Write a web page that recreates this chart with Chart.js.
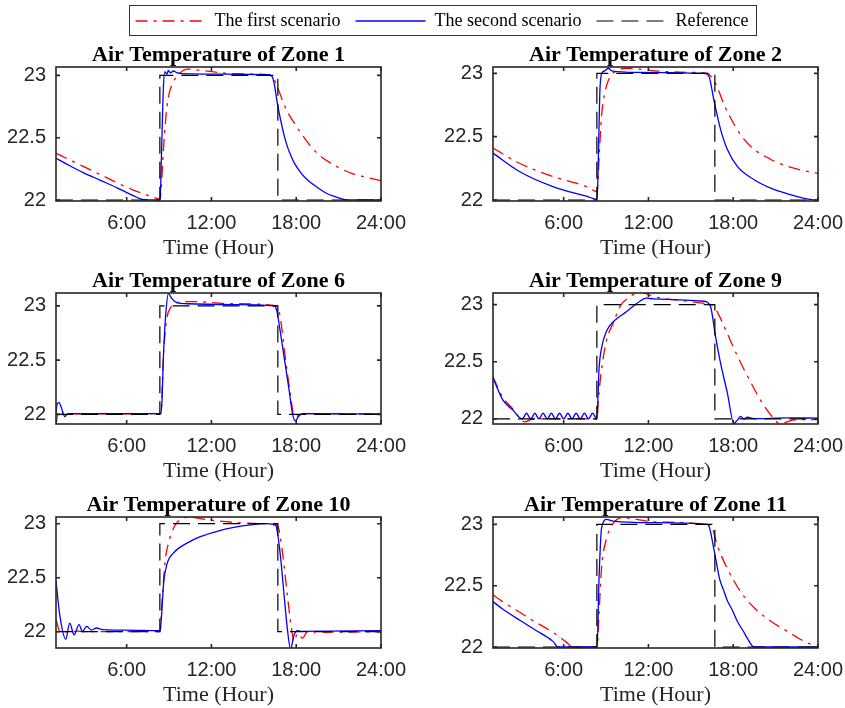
<!DOCTYPE html>
<html lang="en">
<head>
<meta charset="UTF-8">
<title>Air Temperature of Zones</title>
<script src="https://cdn.jsdelivr.net/npm/chart.js@4.4.1/dist/chart.umd.min.js"></script>
<style>
  body { margin: 0; background: #fff; }
  #page { position: relative; width: 845px; height: 708px; overflow: hidden; background: #fff; }
  canvas { position: absolute; }
  #legendBox { position: absolute; left: 129px; top: 5px; width: 626px; height: 29px; border: 1px solid #333; }
</style>
</head>
<body>
<div id="page">
  <div id="legendBox"></div>
  <canvas id="zone1" width="421" height="224" style="left:0px; top:37px"></canvas>
  <canvas id="zone2" width="421" height="224" style="left:437px; top:37px"></canvas>
  <canvas id="zone6" width="421" height="221" style="left:0px; top:263px"></canvas>
  <canvas id="zone9" width="421" height="221" style="left:437px; top:263px"></canvas>
  <canvas id="zone10" width="421" height="221" style="left:0px; top:487px"></canvas>
  <canvas id="zone11" width="421" height="221" style="left:437px; top:487px"></canvas>
  <canvas id="legend" width="700" height="120" style="left:92px; top:-3px"></canvas>
</div>

<script>
// axis ticks
const hourTicks = [6, 12, 18, 24];
const tempTicks = [22, 22.5, 23];

// reference set point (same for every zone)
const refHours = [1, 8.35, 8.35, 16.7, 16.7, 24];
const refTemp = [22, 22, 23, 23, 22, 22];

// zone 1
const zone1FirstHours = [1, 1.73, 2.92, 4.1, 5.29, 6.47, 7.66, 8.37, 8.45, 8.6, 8.77, 8.96, 9.32, 9.79, 10.27, 11.21, 13.58, 15.95, 16.31, 16.66, 17.02, 17.37, 17.85, 18.32, 19.03, 19.74, 20.69, 21.88, 23.06, 24];
const zone1First = [22.375, 22.335, 22.27, 22.206, 22.14, 22.08, 22.032, 22.008, 22.1, 22.4, 22.66, 22.83, 22.95, 23.02, 23.05, 23.04, 23.013, 23.005, 22.99, 22.91, 22.8, 22.71, 22.62, 22.54, 22.43, 22.35, 22.28, 22.215, 22.18, 22.155];
const zone1SecondHours = [1, 1.73, 2.92, 4.1, 5.29, 6.47, 7.18, 8.37, 8.45, 8.6, 8.7, 8.85, 8.95, 9.1, 9.3, 9.6, 10.5, 13, 16.0, 16.3, 16.43, 16.66, 16.9, 17.14, 17.4, 17.61, 17.85, 18.32, 18.8, 19.5, 20.2, 20.69, 21.64, 24];
const zone1Second = [22.335, 22.29, 22.22, 22.16, 22.1, 22.035, 22.003, 22.0, 22.3, 22.9, 23.03, 23.01, 23.04, 23.02, 23.035, 23.02, 23.012, 23.01, 23.005, 22.99, 22.94, 22.78, 22.64, 22.52, 22.42, 22.36, 22.3, 22.22, 22.16, 22.1, 22.05, 22.03, 22.0, 22.0];

// zone 2
const zone2FirstHours = [1, 2.87, 5.24, 7.61, 8.37, 8.51, 8.68, 8.92, 9.27, 9.75, 10.46, 12.36, 14.73, 16.15, 16.4, 16.87, 17.34, 18.05, 18.76, 19.48, 20.66, 21.85, 23.03, 24];
const zone2First = [22.41, 22.29, 22.186, 22.106, 22.066, 22.34, 22.66, 22.85, 22.97, 23.02, 23.04, 23.02, 23.008, 23.0, 22.98, 22.89, 22.756, 22.6, 22.48, 22.4, 22.32, 22.265, 22.23, 22.21];
const zone2SecondHours = [1, 2.87, 5.24, 7.61, 8.37, 8.47, 8.56, 8.68, 8.92, 9.16, 9.39, 11.17, 15.92, 16.27, 16.63, 17.1, 17.58, 18.29, 19.48, 20.66, 21.85, 23.03, 24];
const zone2Second = [22.37, 22.225, 22.106, 22.03, 22.005, 22.4, 22.85, 22.995, 23.02, 23.04, 23.02, 23.008, 23.0, 22.98, 22.79, 22.56, 22.4, 22.265, 22.16, 22.093, 22.048, 22.013, 21.995];

// zone 6
const zone6FirstHours = [1, 1.14, 1.31, 1.5, 1.73, 2.0, 8.42, 8.61, 8.84, 9.08, 9.55, 10.5, 13.58, 16.66, 16.9, 17.25, 17.61, 17.85, 18.08, 18.32, 24];
const zone6First = [21.9, 22.01, 21.98, 22.01, 21.99, 22.005, 22.006, 22.56, 22.88, 22.976, 23.03, 23.04, 23.02, 23.0, 22.87, 22.5, 22.165, 21.98, 21.985, 22.006, 22.003];
const zone6SecondHours = [1, 1.07, 1.21, 1.38, 1.62, 1.85, 8.37, 8.49, 8.61, 8.77, 8.96, 9.2, 9.55, 10.27, 13.58, 16.43, 16.62, 16.78, 17.14, 17.49, 17.73, 17.92, 18.16, 18.44, 24];
const zone6Second = [22.012, 22.09, 22.11, 22.06, 21.98, 22.006, 22.006, 22.1, 22.56, 22.93, 23.113, 23.067, 23.03, 23.02, 23.012, 23.0, 22.96, 22.84, 22.53, 22.23, 22.012, 21.94, 21.98, 22.006, 22.003];

// zone 9
const zone9FirstHours = [1, 1.68, 2.39, 3.1, 3.3, 3.58, 4.05, 8.37, 8.44, 8.68, 9.04, 9.51, 9.99, 10.7, 11.4, 12.36, 14.73, 16.39, 16.6, 16.9, 17.5, 18.3, 19.2, 20.1, 20.9, 21.2, 21.5, 22.2, 24];
const zone9First = [22.37, 22.19, 22.09, 21.98, 21.975, 21.99, 22.0, 22.0, 22.14, 22.43, 22.69, 22.84, 22.985, 23.07, 23.11, 23.07, 23.03, 23.0, 22.99, 22.93, 22.77, 22.55, 22.33, 22.13, 22.0, 21.965, 21.965, 21.99, 21.995];
const zone9SecondHours = [1, 1.68, 2.39, 3.08, 3.37, 3.67, 3.96, 4.25, 4.54, 4.84, 5.13, 5.42, 5.71, 6.01, 6.3, 6.59, 6.88, 7.18, 7.47, 7.76, 8.05, 8.35, 8.51, 8.68, 9.04, 9.51, 10.46, 11.4, 11.84, 12.36, 15.92, 16.39, 16.75, 17.1, 17.58, 18.05, 18.29, 18.53, 18.76, 19.0, 19.48, 21.85, 24];
const zone9Second = [22.359, 22.17, 22.08, 22.0, 22.05, 22.0, 22.05, 22.0, 22.05, 22.0, 22.05, 22.0, 22.05, 22.0, 22.05, 22.0, 22.05, 22.0, 22.05, 22.0, 22.05, 22.0, 22.45, 22.62, 22.77, 22.85, 22.94, 23.03, 23.058, 23.05, 23.03, 22.985, 22.72, 22.49, 22.23, 21.96, 21.99, 22.023, 22.0, 22.015, 22.003, 22.009, 22.008];

// zone 10
const zone10FirstHours = [1, 1.33, 1.7, 2.1, 2.5, 3.0, 8.37, 8.49, 8.72, 8.96, 9.32, 9.79, 10.5, 11.69, 13.58, 15.95, 16.66, 17.02, 17.37, 17.66, 17.85, 18.09, 18.44, 18.8, 19.15, 19.5, 19.98, 24];
const zone10First = [22.11, 21.99, 22.0, 21.995, 22.005, 22.0, 22.0, 22.25, 22.65, 22.82, 22.96, 23.037, 23.06, 23.037, 23.012, 23.0, 22.99, 22.74, 22.34, 22.034, 21.91, 21.985, 21.94, 22.0, 21.98, 22.015, 21.995, 22.0];
const zone10SecondHours = [1, 1.26, 1.69, 1.97, 2.28, 2.63, 2.87, 3.17, 3.5, 3.87, 4.3, 6.0, 8.37, 8.49, 8.61, 8.84, 9.32, 10.27, 11.21, 12.4, 13.58, 14.77, 15.95, 16.55, 16.66, 16.9, 17.14, 17.37, 17.6, 17.85, 18.08, 18.32, 24];
const zone10Second = [22.47, 22.16, 21.93, 22.08, 21.97, 22.065, 22.003, 22.05, 22.015, 22.034, 22.02, 22.015, 22.01, 22.19, 22.44, 22.62, 22.73, 22.82, 22.88, 22.93, 22.966, 22.99, 23.0, 22.985, 22.93, 22.68, 22.34, 22.03, 21.84, 21.97, 22.01, 22.003, 22.01];

// zone 11
const zone11FirstHours = [1, 1.68, 2.87, 4.05, 5.24, 6.19, 6.66, 8.37, 8.49, 8.68, 9.04, 9.51, 10.22, 11.17, 12.36, 16.15, 16.51, 16.87, 17.58, 18.53, 19.48, 20.66, 21.85, 23.03, 24];
const zone11First = [22.425, 22.37, 22.285, 22.2, 22.12, 22.04, 22.0, 22.0, 22.24, 22.64, 22.886, 23.008, 23.054, 23.04, 23.02, 23.0, 22.97, 22.83, 22.64, 22.45, 22.32, 22.21, 22.127, 22.046, 22.0];
const zone11SecondHours = [1, 1.68, 2.87, 4.05, 5.24, 5.6, 8.37, 8.49, 8.68, 9.04, 9.51, 12.36, 16.15, 16.27, 16.63, 17.05, 17.3, 17.58, 17.94, 18.29, 18.76, 19.0, 19.48, 24];
const zone11Second = [22.37, 22.31, 22.22, 22.135, 22.046, 22.0, 22.0, 22.51, 22.967, 23.04, 23.027, 23.014, 23.0, 22.99, 22.8, 22.55, 22.47, 22.38, 22.3, 22.21, 22.12, 22.07, 22.0, 22.0];

const panels = [
  { id: 'zone1', title: 'Air Temperature of Zone 1', first: [zone1FirstHours, zone1First], second: [zone1SecondHours, zone1Second], yMin: 21.992, yMax: 23.067 },
  { id: 'zone2', title: 'Air Temperature of Zone 2', first: [zone2FirstHours, zone2First], second: [zone2SecondHours, zone2Second], yMin: 21.992, yMax: 23.05 },
  { id: 'zone6', title: 'Air Temperature of Zone 6', first: [zone6FirstHours, zone6First], second: [zone6SecondHours, zone6Second], yMin: 21.911, yMax: 23.119 },
  { id: 'zone9', title: 'Air Temperature of Zone 9', first: [zone9FirstHours, zone9First], second: [zone9SecondHours, zone9Second], yMin: 21.956, yMax: 23.102 },
  { id: 'zone10', title: 'Air Temperature of Zone 10', first: [zone10FirstHours, zone10First], second: [zone10SecondHours, zone10Second], yMin: 21.849, yMax: 23.062 },
  { id: 'zone11', title: 'Air Temperature of Zone 11', first: [zone11FirstHours, zone11First], second: [zone11SecondHours, zone11Second], yMin: 21.992, yMax: 23.06 }
];

const serif = "'Liberation Serif', 'Times New Roman', serif";
const sans = "'Liberation Sans', Arial, sans-serif";
const axisColor = '#262626';
const red = '#ff0000';
const blue = '#0000ff';
const redDash = [12, 6, 3, 6];
const refDash = [17, 8];

function pairs(xs, ys) {
  return xs.map((x, i) => ({ x: x, y: ys[i] }));
}

// matlab style box with inward ticks on all four sides
const boxPlugin = {
  id: 'matlabBox',
  afterDatasetsDraw(chart) {
    const ctx = chart.ctx;
    const a = chart.chartArea;
    const x = chart.scales.x;
    const y = chart.scales.y;
    ctx.save();
    ctx.strokeStyle = axisColor;
    ctx.lineWidth = 1.6;
    ctx.strokeRect(a.left, a.top, a.right - a.left, a.bottom - a.top);
    ctx.beginPath();
    x.ticks.forEach(t => {
      const px = x.getPixelForValue(t.value);
      ctx.moveTo(px, a.bottom); ctx.lineTo(px, a.bottom - 4);
      ctx.moveTo(px, a.top); ctx.lineTo(px, a.top + 4);
    });
    y.ticks.forEach(t => {
      const py = y.getPixelForValue(t.value);
      ctx.moveTo(a.left, py); ctx.lineTo(a.left + 4, py);
      ctx.moveTo(a.right, py); ctx.lineTo(a.right - 4, py);
    });
    ctx.stroke();
    ctx.restore();
  }
};

panels.forEach(p => {
  new Chart(document.getElementById(p.id), {
    type: 'line',
    data: {
      datasets: [
        { label: 'Reference', data: pairs(refHours, refTemp), borderColor: '#000', borderWidth: 1.2, borderDash: refDash, order: 1 },
        { label: 'The second scenario', data: pairs(p.second[0], p.second[1]), borderColor: blue, borderWidth: 1.3, cubicInterpolationMode: 'monotone', order: 2 },
        { label: 'The first scenario', data: pairs(p.first[0], p.first[1]), borderColor: red, borderWidth: 1.3, borderDash: redDash, cubicInterpolationMode: 'monotone', order: 3 }
      ]
    },
    options: {
      responsive: false,
      animation: false,
      events: [],
      layout: { padding: { left: 0, right: 40, top: 0, bottom: 0 } },
      elements: { point: { radius: 0 } },
      plugins: {
        legend: { display: false },
        tooltip: { enabled: false },
        title: {
          display: true, text: p.title, color: '#000', fullSize: false,
          font: { family: serif, size: 22, weight: 'bold', lineHeight: 1 },
          padding: { top: 7, bottom: 1 }
        }
      },
      scales: {
        x: {
          type: 'linear', min: 1, max: 24,
          grid: { display: false }, border: { display: false },
          afterBuildTicks: s => { s.ticks = hourTicks.map(v => ({ value: v })); },
          afterFit: s => { s.height = 60; },
          ticks: { callback: v => v + ':00', color: axisColor, font: { family: sans, size: 20 }, padding: 2, maxRotation: 0, autoSkip: false },
          title: { display: true, text: 'Time (Hour)', color: axisColor, font: { family: serif, size: 22 }, padding: { top: 0, bottom: 0 } }
        },
        y: {
          min: p.yMin, max: p.yMax,
          grid: { display: false }, border: { display: false },
          afterBuildTicks: s => { s.ticks = tempTicks.map(v => ({ value: v })); },
          afterFit: s => { s.width = 56; },
          ticks: { callback: v => String(v), color: axisColor, font: { family: sans, size: 20 }, padding: 2 }
        }
      }
    },
    plugins: [boxPlugin]
  });
});

// shared legend on top
new Chart(document.getElementById('legend'), {
  type: 'line',
  data: {
    datasets: [
      { label: 'The first scenario', data: [], borderColor: red, borderWidth: 1.3, borderDash: redDash },
      { label: 'The second scenario', data: [], borderColor: blue, borderWidth: 1.3 },
      { label: 'Reference', data: [], borderColor: '#000', borderWidth: 1.2, borderDash: refDash }
    ]
  },
  options: {
    responsive: false,
    animation: false,
    events: [],
    scales: { x: { display: false }, y: { display: false } },
    plugins: {
      tooltip: { enabled: false },
      legend: {
        display: true,
        position: 'top',
        labels: {
          usePointStyle: true, pointStyle: 'line', pointStyleWidth: 70, boxHeight: 18,
          color: '#000', font: { family: serif, size: 18 }, padding: 15,
          generateLabels: chart => Chart.defaults.plugins.legend.labels.generateLabels(chart).map(item => {
            const ds = chart.data.datasets[item.datasetIndex];
            item.lineDash = ds.borderDash || [];
            item.lineWidth = ds.borderWidth;
            item.strokeStyle = ds.borderColor;
            return item;
          })
        }
      }
    }
  }
});
</script>
</body>
</html>
